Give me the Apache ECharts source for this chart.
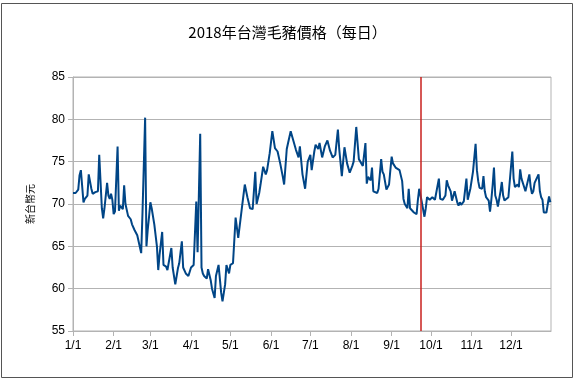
<!DOCTYPE html>
<html><head><meta charset="utf-8">
<script src="https://cdn.jsdelivr.net/npm/echarts@6/dist/echarts.min.js"></script>
<style>html,body{margin:0;padding:0;background:#fff}#c{width:575px;height:380px}</style>
</head><body><div id="c"></div>
<script>
var titleText = '2018年台灣毛豬價格（每日）';
var yName = '新台幣元';
var markDate = '2018-09-23';
var dates = ['01-01','01-03','01-04','01-05','01-06','01-07','01-09','01-10','01-12','01-13','01-15','01-16','01-18','01-19','01-20','01-21','01-23','01-24','01-25','01-27','01-28','01-29','01-30','01-31',
'02-01','02-02','02-04','02-05','02-06','02-08','02-09','02-10','02-11','02-12','02-14','02-15','02-17','02-19','02-22','02-23','02-25','02-26','02-27','02-28',
'03-01','03-02','03-04','03-06','03-07','03-08','03-10','03-11','03-13','03-14','03-15','03-17','03-18','03-20','03-22','03-23','03-25','03-26','03-28','03-30',
'04-01','04-03','04-05','04-06','04-08','04-09','04-10','04-11','04-13','04-14','04-16','04-17','04-19','04-20','04-22','04-24','04-25','04-27','04-28','04-30',
'05-01','05-03','05-04','05-05','05-07','05-10','05-12','05-14','05-16','05-18','05-20','05-21','05-23','05-24','05-26','05-28','05-29','05-31',
'06-02','06-04','06-06','06-08','06-10','06-11','06-13','06-14','06-16','06-18','06-20','06-22','06-23','06-25','06-27','06-29',
'07-01','07-02','07-04','07-05','07-07','07-08','07-10','07-12','07-14','07-16','07-18','07-20','07-22','07-23','07-25','07-26','07-27','07-29','07-31',
'08-02','08-03','08-05','08-07','08-08','08-10','08-12','08-13','08-14','08-16','08-17','08-18','08-21','08-22','08-24','08-25','08-26','08-28','08-30','08-31',
'09-01','09-02','09-04','09-05','09-07','09-09','09-10','09-11','09-13','09-14','09-15','09-16','09-18','09-20','09-21','09-22','09-24','09-26','09-27','09-28','09-29','09-30',
'10-02','10-03','10-04','10-07','10-08','10-09','10-10','10-12','10-13','10-14','10-16','10-17','10-18','10-19','10-21','10-22','10-23','10-24','10-26','10-28','10-29','10-31',
'11-02','11-04','11-05','11-06','11-07','11-09','11-10','11-11','11-12','11-14','11-15','11-16','11-17','11-18','11-19','11-20','11-21','11-23','11-24','11-25','11-26','11-27','11-29','11-30',
'12-02','12-03','12-04','12-06','12-07','12-08','12-09','12-11','12-12','12-15','12-16','12-17','12-18','12-19','12-22','12-23','12-24','12-25','12-26','12-28','12-29','12-30','12-31'];
var prices = [71.3,71.3,71.5,71.7,73.4,74.0,70.2,70.6,71.0,73.5,71.8,71.2,71.4,71.2,71.5,75.8,69.5,68.3,69.5,72.5,71.0,70.6,71.2,70.5,
68.8,69.1,76.8,69.2,69.8,69.4,72.2,70.0,69.8,68.6,68.2,67.6,66.9,66.3,64.2,69.0,80.2,65.0,67.0,68.5,
70.2,69.5,67.6,65.0,62.2,64.0,66.7,62.8,62.6,62.2,62.3,64.8,62.5,60.5,62.4,63.0,65.6,62.5,61.8,61.5,
62.5,62.8,70.3,64.3,78.3,62.5,61.8,61.5,61.2,62.3,61.0,60.0,58.9,61.5,62.8,59.5,58.5,60.5,62.8,61.8,
62.8,63.0,63.0,68.4,66.0,69.8,72.3,70.8,69.5,69.4,73.8,70.0,71.3,72.3,74.4,73.5,74.0,76.0,
78.6,76.6,76.2,74.8,73.2,72.3,76.5,77.2,78.6,77.5,76.4,75.5,76.8,73.5,71.8,75.0,
75.8,74.0,76.2,77.0,76.5,77.2,75.5,76.8,77.5,76.3,75.5,75.8,78.8,76.5,73.3,73.4,76.7,74.8,73.7,
74.5,75.0,79.1,75.3,75.2,74.5,77.2,72.4,73.2,72.8,74.3,71.5,71.3,71.8,75.3,73.8,73.5,71.7,72.3,74.0,
75.6,74.8,74.3,74.5,74.0,72.7,70.6,70.0,69.5,71.8,69.5,69.3,69.0,68.8,70.5,71.8,70.2,68.5,69.5,70.8,71.0,70.5,
70.8,70.8,70.5,73.0,70.6,70.5,70.5,71.0,72.8,72.2,71.5,70.4,70.3,71.5,70.2,69.8,70.2,69.9,70.3,73.0,70.5,71.8,
73.8,77.1,74.0,72.7,71.9,71.8,73.3,71.5,70.8,70.4,69.1,70.5,72.2,74.3,71.0,70.5,69.7,71.5,72.6,71.0,70.4,70.5,70.8,71.0,
76.2,73.0,72.0,72.3,72.0,74.1,73.0,72.0,71.5,73.5,72.0,71.2,71.5,72.5,73.5,71.5,70.8,70.5,69.0,69.0,69.2,70.9,70.2];

var seriesData = dates.map(function(d,i){ return ['2018-' + d, prices[i]]; });

var chart = echarts.init(document.getElementById('c'), null, {renderer:'canvas'});
var DAY = 86400000;
chart.setOption({
  animation: false,
  backgroundColor: '#fff',
  textStyle: {fontFamily: '"Liberation Sans", Arial, sans-serif'},
  title: {
    text: titleText, left: 'center', top: 20,
    textStyle: {fontFamily: '"Noto Sans CJK TC", "Liberation Sans", sans-serif', fontSize: 15, fontWeight: 'normal', color: '#000'}
  },
  graphic: [{
    type: 'rect', shape: {x: 1.5, y: 3.5, width: 571, height: 374},
    style: {fill: null, stroke: '#555', lineWidth: 1}, silent: true, z: -1
  }],
  grid: {left: 73, right: 24, top: 77, bottom: 49, show: true, borderColor: '#b3b3b3', borderWidth: 1, backgroundColor: 'transparent'},
  xAxis: {
    type: 'time',
    min: '2018-01-01', max: '2018-12-31 12:00:00',
    minInterval: 28 * DAY, maxInterval: 31 * DAY,
    axisLine: {lineStyle: {color: '#b3b3b3'}},
    axisTick: {show: true, length: 5, lineStyle: {color: '#b3b3b3'}},
    splitLine: {show: false},
    axisLabel: {
      color: '#000', fontSize: 12, margin: 9,
      fontFamily: '"Liberation Sans", Arial, sans-serif',
      formatter: function(v){ var d = new Date(v); return (d.getMonth()+1) + '/' + d.getDate(); },
      showMaxLabel: false
    }
  },
  yAxis: {
    type: 'value', min: 55, max: 85, interval: 5,
    name: yName, nameLocation: 'middle', nameGap: 38, nameRotate: 90,
    nameTextStyle: {fontSize: 10, color: '#000', fontFamily: '"Noto Sans CJK TC", sans-serif'},
    axisLine: {show: true, lineStyle: {color: '#b3b3b3'}},
    axisTick: {show: true, length: 5, lineStyle: {color: '#b3b3b3'}},
    splitLine: {lineStyle: {color: '#b3b3b3', width: 1}},
    axisLabel: {color: '#000', fontSize: 12, margin: 8, fontFamily: '"Liberation Sans", Arial, sans-serif'}
  },
  series: [{
    type: 'line', data: seriesData, showSymbol: false, symbol: 'none',
    lineStyle: {color: '#004586', width: 2}, itemStyle: {color: '#004586'},
    markLine: {
      silent: true, symbol: ['none','none'], label: {show: false},
      lineStyle: {color: '#c9211e', width: 1.5, type: 'solid'},
      data: [{xAxis: markDate}]
    }
  }]
});
</script>
</body></html>
